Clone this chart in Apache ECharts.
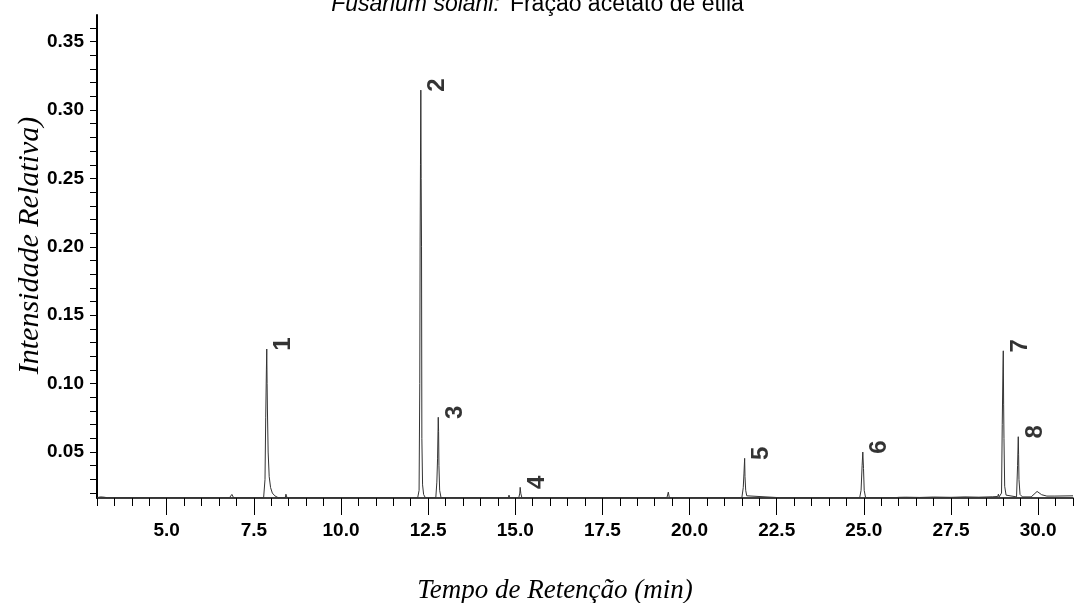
<!DOCTYPE html>
<html><head><meta charset="utf-8">
<script src="https://cdn.jsdelivr.net/npm/echarts@6/dist/echarts.min.js"></script>
<style>html,body{margin:0;padding:0;background:#fff}#c{width:1075px;height:603px}</style>
</head><body><div id="c"></div>
<script>
// Chromatogram trace (retention time in min, relative intensity)
const times = [3.00,3.10,3.15,3.20,3.30,6.80,6.87,6.92,7.28,7.30,7.32,7.78,7.82,7.84,7.86,7.87,7.88,7.89,7.91,7.94,7.98,8.03,8.10,8.20,8.40,8.42,8.45,10.68,10.70,10.72,
  12.20,12.24,12.26,12.27,12.28,12.29,12.30,12.31,12.32,12.34,12.37,12.42,12.72,12.75,12.77,12.79,12.80,12.81,12.83,12.87,
  14.80,14.82,14.84,15.10,15.13,15.14,15.16,15.19,19.35,19.39,19.42,21.15,21.17,21.19,21.50,21.54,21.56,21.58,21.59,21.61,21.64,21.68,
  22.61,22.63,22.65,24.88,24.92,24.95,24.97,24.99,25.01,25.05,25.90,26.00,26.20,26.60,27.00,27.50,27.90,28.30,28.70,28.84,28.86,28.88,
  28.95,28.97,28.99,29.00,29.01,29.02,29.04,29.08,29.12,29.38,29.41,29.43,29.44,29.45,29.48,29.55,29.80,29.97,30.10,30.25,30.48,30.50,30.52,31.00];
const intensity = [0.0166,0.0172,0.0180,0.0170,0.0166,0.0166,0.0190,0.0166,0.0166,0.0172,0.0166,0.0166,0.030,0.075,0.110,0.1253,0.100,0.080,0.050,0.032,0.024,0.020,0.018,0.0166,0.0166,0.0192,0.0166,0.0166,0.0175,0.0166,
  0.0166,0.022,0.10,0.205,0.26,0.3146,0.25,0.20,0.06,0.026,0.019,0.0166,0.0166,0.028,0.045,0.0754,0.065,0.040,0.022,0.0166,
  0.0166,0.0185,0.0166,0.0166,0.0200,0.0242,0.0195,0.0166,0.0166,0.0207,0.0166,0.0166,0.0175,0.0166,0.0166,0.024,0.034,0.0454,0.032,0.022,0.018,0.0166,
  0.0166,0.0178,0.0166,0.0166,0.022,0.040,0.0500,0.038,0.022,0.0166,0.0166,0.0169,0.0170,0.0168,0.0171,0.0169,0.0172,0.0170,0.0173,0.0175,0.0192,0.0172,
  0.020,0.070,0.110,0.124,0.085,0.060,0.025,0.0185,0.0172,0.0172,0.040,0.0612,0.048,0.030,0.019,0.0172,0.0172,0.0212,0.0188,0.0178,0.0178,0.0188,0.0178,0.0180];

// Numbered peaks
const peakNames = ['1','2','3','4','5','6','7','8'];
const peakTimes = [7.87,12.29,12.79,15.14,21.58,24.97,29.00,29.43];
const peakValues = [0.1253,0.3146,0.0754,0.0242,0.0454,0.0500,0.124,0.0612];

// Axis ticks / labels
const xLabelValues = [5,7.5,10,12.5,15,17.5,20,22.5,25,27.5,30];
const xMinorTicks = [];
for (let i = 6; i <= 62; i++) xMinorTicks.push(i / 2);
const yLabelValues = [0.05,0.10,0.15,0.20,0.25,0.30,0.35];
const yTicks = [];
for (let i = 2; i <= 36; i++) yTicks.push(i / 100);

const trace = times.map((t, i) => [t, intensity[i]]);
const peaks = peakTimes.map((t, i) => ({ value: [t, peakValues[i]], name: peakNames[i] }));

const numFont = "'Liberation Sans',Arial,sans-serif";
const chart = echarts.init(document.getElementById('c'), null, { renderer: 'canvas' });
chart.setOption({
  animation: false,
  backgroundColor: '#ffffff',
  title: {
    text: '{i|Fusarium solani:}  {n|Fração acetato de etila}',
    left: 'center', top: -12,
    textStyle: {
      fontWeight: 'normal',
      rich: {
        i: { fontFamily: "'Liberation Sans',Arial,sans-serif", fontStyle: 'italic', fontWeight: 'normal', fontSize: 23, color: '#000' },
        n: { fontFamily: "'Liberation Sans',Arial,sans-serif", fontWeight: 'normal', fontSize: 23, color: '#000' }
      }
    }
  },
  grid: { left: 97, right: 2, top: 15, bottom: 105, containLabel: false, outerBoundsMode: 'none' },
  xAxis: [{
    type: 'value', min: 3, max: 31,
    splitLine: { show: false },
    axisLine: { show: true, lineStyle: { color: '#000', width: 1.5 } },
    axisTick: { show: true, customValues: xMinorTicks, length: 8, lineStyle: { color: '#000', width: 1 } },
    axisLabel: {
      customValues: xLabelValues, margin: 23,
      formatter: v => v.toFixed(1),
      fontFamily: numFont, fontWeight: 'bold', fontSize: 19, color: '#000'
    },
    name: 'Tempo de Retenção (min)', nameLocation: 'middle', nameGap: 79, nameMoveOverlap: false,
    nameTextStyle: { fontFamily: "'Liberation Serif','Times New Roman',serif", fontStyle: 'italic', fontSize: 27, color: '#000', padding: [0, 60, 0, 0] }
  }, {
    type: 'value', min: 3, max: 31, position: 'bottom',
    splitLine: { show: false },
    axisLine: { show: false },
    axisTick: { show: true, customValues: xLabelValues, length: 17, lineStyle: { color: '#000', width: 1 } },
    axisLabel: { show: false }
  }],
  yAxis: {
    type: 'value', min: 0.0164, max: 0.3695,
    splitLine: { show: false },
    axisLine: { show: true, lineStyle: { color: '#000', width: 2 } },
    axisTick: { show: true, customValues: yTicks, length: 7, lineStyle: { color: '#000', width: 1 } },
    axisLabel: {
      customValues: yLabelValues, margin: 13,
      formatter: v => v.toFixed(2),
      fontFamily: numFont, fontWeight: 'bold', fontSize: 19, color: '#000'
    },
    name: 'Intensidade Relativa)', nameLocation: 'middle', nameGap: 52, nameMoveOverlap: false,
    nameTextStyle: { fontFamily: "'Liberation Serif','Times New Roman',serif", fontStyle: 'italic', fontSize: 30, color: '#000', padding: [0, 0, 0, 22] }
  },
  series: [{
    type: 'line', data: trace, xAxisIndex: 0, showSymbol: false, symbol: 'none', smooth: false,
    lineStyle: { color: '#333', width: 1 }, silent: true, clip: true
  }, {
    type: 'scatter', data: peaks, xAxisIndex: 0, symbolSize: 0, silent: true,
    label: {
      show: true, position: 'inside', formatter: p => p.name, rotate: 90,
      offset: [5, 17], align: 'center', verticalAlign: 'middle',
      fontFamily: numFont, fontWeight: 'bold', fontSize: 24, color: '#000'
    }
  }]
});
</script></body></html>
